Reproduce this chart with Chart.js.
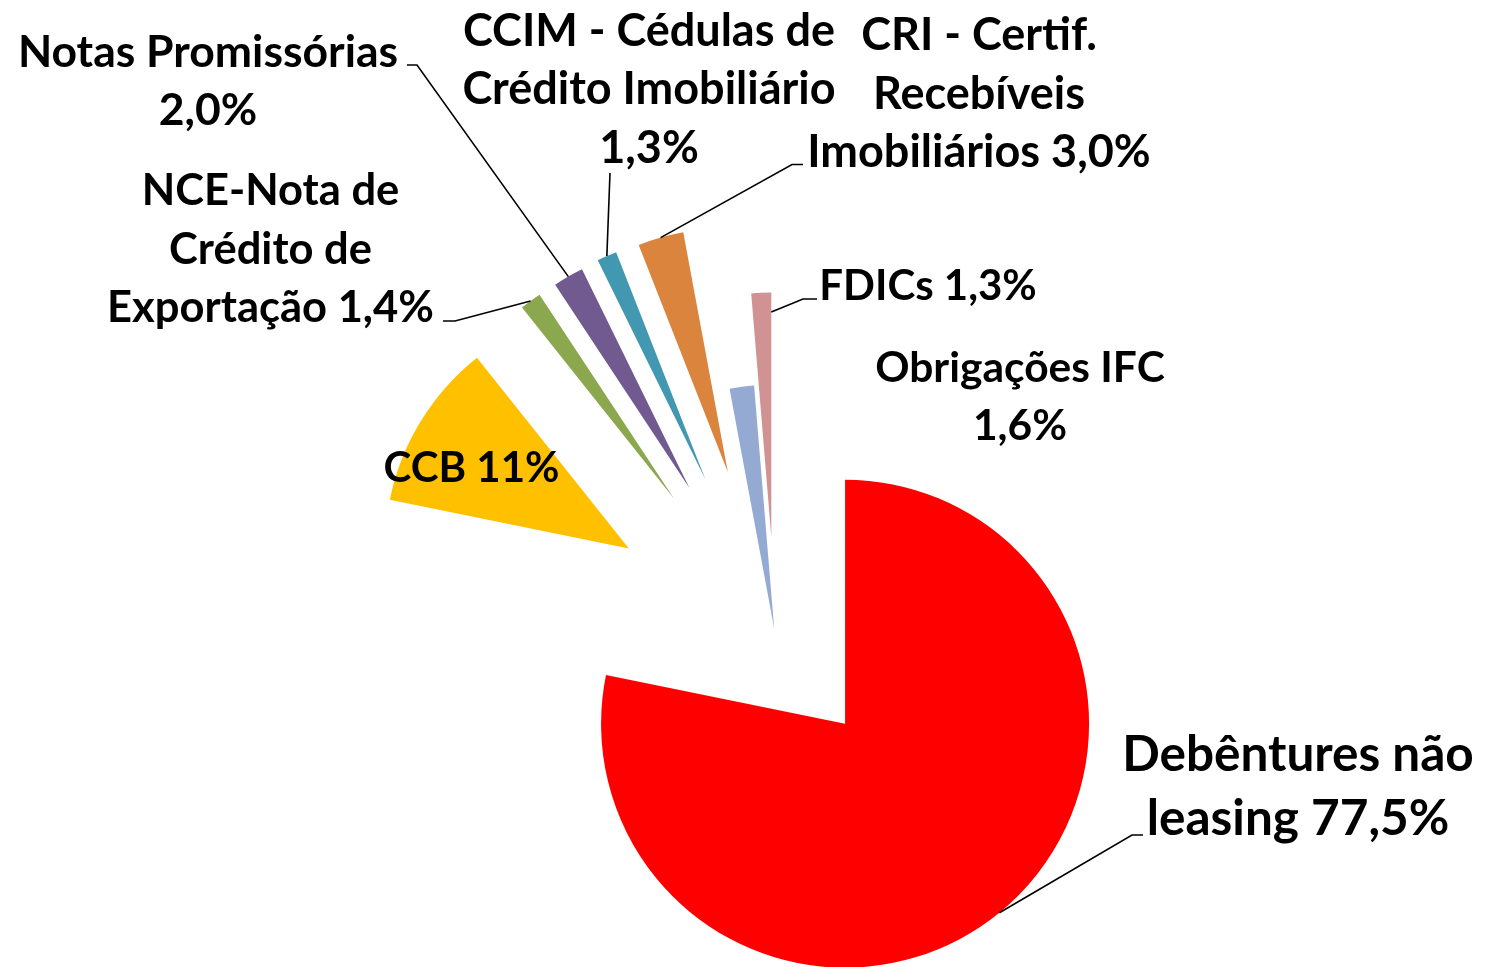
<!DOCTYPE html>
<html lang="pt-BR">
<head>
<meta charset="utf-8">
<title>Composição da carteira</title>
<script src="https://cdn.jsdelivr.net/npm/chart.js@4.4.1/dist/chart.umd.min.js"></script>
<style>
  html, body { margin: 0; padding: 0; background: #fff; }
  #chart-box { width: 1492px; height: 967px; }
</style>
</head>
<body>
<div id="chart-box"><canvas id="pie-chart" width="1492" height="967"></canvas></div>
<script>
// Slices, clockwise from 12 o'clock
const categories = [
    'Debêntures não leasing', 'CCB', 'NCE-Nota de Crédito de Exportação', 'Notas Promissórias',
    'CCIM - Cédulas de Crédito Imobiliário', 'CRI - Certif. Recebíveis Imobiliários', 'Obrigações IFC', 'FDICs'
];
const shares = [77.5, 11, 1.4, 2.0, 1.3, 3.0, 1.6, 1.3];
const shareText = ['77,5%', '11%', '1,4%', '2,0%', '1,3%', '3,0%', '1,6%', '1,3%'];

const sliceColors = ['#FF0000', '#FFC000', '#8BA84F', '#705A90', '#4298B0', '#DA843E', '#95AAD2', '#D09292'];
// how far each slice is pulled out of the pie (px)
const explode = [110, 172, 173, 173, 174, 173, 10, 102];

// label text as it is broken on the picture
const labelLines = [
    ['Debêntures não', 'leasing ' + shareText[0]],
    ['CCB ' + shareText[1]],
    ['NCE-Nota de', 'Crédito de', 'Exportação ' + shareText[2]],
    ['Notas Promissórias', shareText[3]],
    ['CCIM - Cédulas de', 'Crédito Imobiliário', shareText[4]],
    ['CRI - Certif.', 'Recebíveis', 'Imobiliários ' + shareText[5]],
    ['Obrigações IFC', shareText[6]],
    ['FDICs ' + shareText[7]]
];
// centre x, first baseline, font size, line height
const labelPos = [
    {x: 1298, y: 770.5, size: 49.5, lh: 64.5},
    {x: 471.5, y: 481.5, size: 42, lh: 58.6},
    {x: 270.5, y: 205, size: 43.5, lh: 58.6},
    {x: 208, y: 66.5, size: 44.5, lh: 58.6},
    {x: 649, y: 45.5, size: 45, lh: 58.6},
    {x: 979, y: 50, size: 45, lh: 58.6},
    {x: 1020, y: 381.5, size: 42.5, lh: 58.6},
    {x: 928, y: 299.5, size: 42, lh: 58.6}
];
// leader lines: points near the label, then a spot on the slice (fraction of angle, fraction of radius)
const leaders = [
    {slice: 0, path: [[1143, 835], [1132, 835]], at: 0.5, r: 1},
    {slice: 2, path: [[443, 321], [455, 321]], at: 0.5, r: 1},
    {slice: 3, path: [[407, 65], [417, 65]], at: 0.5, r: 1},
    {slice: 4, path: [[610, 173]], at: 0.5, r: 1},
    {slice: 5, path: [[803, 164.5], [792, 164.5]], at: 0.5, r: 1},
    {slice: 7, path: [[817, 299], [803, 299]], at: 1, r: 0.92}
];

const explodePlugin = {
    id: 'explode',
    afterDatasetsUpdate(chart) {
        chart.getDatasetMeta(0).data.forEach((arc, i) => {
            const mid = (arc.startAngle + arc.endAngle) / 2;
            arc.x += Math.cos(mid) * explode[i];
            arc.y += Math.sin(mid) * explode[i];
        });
    }
};

const labelPlugin = {
    id: 'sliceLabels',
    afterDatasetsDraw(chart) {
        const ctx = chart.ctx;
        const arcs = chart.getDatasetMeta(0).data;
        ctx.save();

        ctx.strokeStyle = '#000';
        ctx.lineWidth = 1.6;
        leaders.forEach(l => {
            const arc = arcs[l.slice];
            const a = arc.startAngle + (arc.endAngle - arc.startAngle) * l.at;
            const r = arc.outerRadius * l.r;
            ctx.beginPath();
            l.path.forEach((p, k) => k ? ctx.lineTo(p[0], p[1]) : ctx.moveTo(p[0], p[1]));
            ctx.lineTo(arc.x + Math.cos(a) * r, arc.y + Math.sin(a) * r);
            ctx.stroke();
        });

        ctx.fillStyle = '#000';
        ctx.textAlign = 'center';
        ctx.textBaseline = 'alphabetic';
        labelLines.forEach((lines, i) => {
            const p = labelPos[i];
            ctx.font = `bold ${p.size}px Lato, "Open Sans", sans-serif`;
            lines.forEach((t, k) => ctx.fillText(t, p.x, p.y + k * p.lh));
        });

        ctx.restore();
    }
};

document.addEventListener('DOMContentLoaded', function() {
    const ctx = document.getElementById('pie-chart').getContext('2d');
    new Chart(ctx, {
        type: 'pie',
        data: {
            labels: categories,
            datasets: [{
                data: shares,
                backgroundColor: sliceColors,
                borderWidth: 0,
                radius: 244,
                clip: false
            }]
        },
        options: {
            responsive: false,
            animation: false,
            events: [],
            layout: {
                padding: {left: 59, right: 0, top: 310, bottom: 0}
            },
            plugins: {
                legend: {display: false},
                tooltip: {enabled: false}
            }
        },
        plugins: [explodePlugin, labelPlugin]
    });
});
</script>
</body>
</html>
